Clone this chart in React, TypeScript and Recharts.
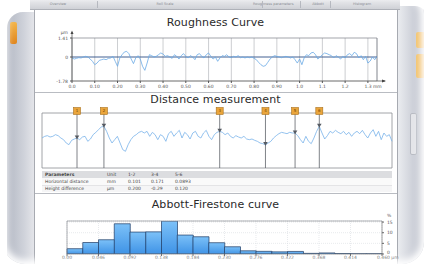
import React from 'react';
import {
  LineChart, Line, XAxis, YAxis, CartesianGrid, ReferenceLine, ReferenceDot, ReferenceArea,
  BarChart, Bar,
} from 'recharts';

const FONT = '"DejaVu Sans", Verdana, sans-serif';

// ---------- Roughness curve ----------
const roughStep = 0.01;
const roughValues = [
  -0.07, -0.15, -0.1, -0.05, -0.07, 0, 0.05, 0, -0.15, -0.32,
  -0.57, -0.45, -0.25, -0.2, -0.15, -0.2, -0.1, -0.07, 0.05, -0.32,
  -0.69, -0.07, 0.17, 0.37, 0.42, 0.25, -0.15, -0.49, -0.07, 0.1,
  -0.15, -0.69, -0.99, -0.45, 0.17, 0.1, 0, 0.05, 0.17, 0.3,
  0.22, 0.05, 0.1, 0, -0.1, 0.17, 0.05, -0.15, 0.1, 0.25,
  0.05, -0.07, 0.1, 0, -0.2, 0.17, 0.25, 0.05, -0.07, 0.17,
  0.3, 0.05, -0.15, 0, -0.32, -0.07, 0.1, 0.05, 0.17, 0,
  -0.05, 0.05, 0, 0.1, -0.05, 0, -0.07, 0, -0.05, 0,
  -0.1, -0.2, -0.4, -0.57, -0.69, -0.64, -0.4, -0.15, 0, 0.1,
  0.05, 0, -0.05, 0, 0.05, 0, -0.07, 0, -0.2, -0.45,
  -0.15, -0.57, -0.07, 0.17, 0.1, 0.3, 0.35, 0.17, -0.15, 0,
  0.17, 0.3, 0.25, 0.17, 0.1, -0.07, 0.1, 0, -0.15, 0.05,
  -0.07, 0.17, 0.25, 0.1, 0.35, 0.25, -0.07, 0.1, -0.2, 0.05,
  -0.45, -0.3, 0, -0.2, 0.05,
];
const roughXTicks = [0, 0.1, 0.2, 0.3, 0.4, 0.5, 0.6, 0.7, 0.8, 0.9, 1.0, 1.1, 1.2, 1.3];
const roughXLabels = ['0.0', '0.10', '0.20', '0.30', '0.40', '0.50', '0.60', '0.70', '0.80', '0.90', '1.0', '1.1', '1.2', '1.3 mm'];
const roughYTicks = [-1.78, 0, 1.41];
const roughYLabels = ['-1.78', '0', '1.41'];
const roughYUnit = 'µm';

// ---------- Distance measurement ----------
const distStep = 0.01;
const distValues = [
  -0.05, 0, 0.02, -0.02, 0, 0.05, 0.02, -0.05, -0.1, -0.2,
  -0.25, -0.12, -0.08, -0.05, -0.1, -0.02, 0, -0.15, -0.08, 0.05,
  0.12, 0.2, 0.28, 0.3, 0.15, -0.05, -0.2, -0.1, 0, -0.2,
  -0.4, -0.45, -0.25, -0.1, 0, 0.05, 0.12, 0.15, 0.1, 0.15,
  0, 0.12, 0.05, -0.1, 0.05, 0, -0.15, 0.08, 0.15, 0,
  0.1, 0.18, -0.05, 0.12, 0.05, -0.08, 0.1, 0.15, 0, -0.05,
  0.1, 0.18, 0, -0.1, 0.05, 0.12, 0.15, 0.12, 0.05, 0.1,
  0, -0.05, 0.02, -0.02, -0.05, 0, -0.08, -0.1, -0.08, -0.12,
  -0.15, -0.2, -0.22, -0.25, -0.2, -0.15, -0.05, 0.02, 0.08, 0.12,
  0.1, 0.08, 0.12, 0.1, 0.1, 0.02, -0.1, -0.2, 0, -0.15,
  -0.22, -0.05, 0.15, 0.3, 0.1, -0.08, 0.02, 0.15, 0.1, 0.18,
  0.12, 0.08, 0.15, 0.05, 0.12, 0, 0.1, 0.15, 0.08, 0.18,
  0.05, -0.05, 0.1, 0.2, 0, 0.15, -0.1, 0.1, 0, 0.05, -0.15,
];
const markerPositions = [0.13, 0.23, 0.66, 0.83, 0.94, 1.03];
const markerNames = ['1', '2', '3', '4', '5', '6'];

const tableHeader = ['Parameters', 'Unit', '1-2', '3-4', '5-6'];
const tableRow1 = ['Horizontal distance', 'mm', '0.101', '0.171', '0.0893'];
const tableRow2 = ['Height difference', 'µm', '0.200', '-0.29', '0.120'];

// ---------- Abbott-Firestone ----------
const abbottBinWidth = 0.023;
const abbottValues = [2.5, 5.4, 6.7, 14.2, 10.3, 10.4, 15.5, 8.9, 8.1, 5.3, 3.4, 1.5, 1.25, 1.0, 1.2, 0.3, 0.5, 0.2, 0.1, 0.1];
const abbottXTicks = [0, 0.046, 0.092, 0.138, 0.184, 0.23, 0.276, 0.322, 0.368, 0.414, 0.46];
const abbottXLabels = ['0.00', '0.046', '0.092', '0.138', '0.184', '0.230', '0.276', '0.322', '0.368', '0.414', '0.460 µm'];
const abbottYTicks = [0, 5, 10, 15];
const abbottXTitle = 'Scale in depths';

const roughData = roughValues.map((v, i) => ({ x: Number((i * roughStep).toFixed(2)), v }));
const distData = distValues.map((v, i) => ({ x: Number((i * distStep).toFixed(2)), v }));
const abbottData = abbottValues.map((v, i) => ({ x: Number(((i + 0.5) * abbottBinWidth).toFixed(4)), v }));

const TICK = { fontSize: 4.5, fill: '#555', fontFamily: FONT };

const RoughXTick = (p: any) => {
  const idx = roughXTicks.indexOf(p.payload.value);
  const label = roughXLabels[idx] ?? '';
  const last = idx === roughXTicks.length - 1;
  return (
    <text x={last ? p.x - 3.5 : p.x} y={p.y + 3} textAnchor={last ? 'start' : 'middle'} {...TICK}>{label}</text>
  );
};
const RoughYTick = (p: any) => {
  const idx = roughYTicks.indexOf(p.payload.value);
  const label = roughYLabels[idx] ?? '';
  return (
    <g>
      {idx === roughYTicks.length - 1 && (
        <text x={p.x} y={p.y - 4} textAnchor="end" {...TICK}>{roughYUnit}</text>
      )}
      <text x={p.x} y={p.y + 1.6} textAnchor="end" {...TICK}>{label}</text>
    </g>
  );
};

const AbbottXTick = (p: any) => {
  const idx = abbottXTicks.findIndex((t) => Math.abs(t - p.payload.value) < 1e-6);
  const label = abbottXLabels[idx] ?? '';
  const last = idx === abbottXTicks.length - 1;
  return (
    <text x={last ? p.x - 5 : p.x} y={p.y + 2} textAnchor={last ? 'start' : 'middle'} {...TICK}>{label}</text>
  );
};
const AbbottYTick = (p: any) => (
  <g>
    {p.payload.value === abbottYTicks[abbottYTicks.length - 1] && (
      <text x={p.x + 1} y={p.y - 5} textAnchor="start" {...TICK}>%</text>
    )}
    <text x={p.x + 1} y={p.payload.value === 0 ? p.y : p.y + 1.6} textAnchor="start" {...TICK}>{p.payload.value}</text>
  </g>
);

const MarkerFlag = (props: any) => {
  const vb = props.viewBox || {};
  const x = vb.x ?? 0;
  const y = vb.y ?? 0;
  return (
    <g>
      <rect x={x - 3.5} y={y - 5.5} width={7} height={7} fill="#eaa53c" stroke="#a8701c" strokeWidth={0.6} />
      <text x={x} y={y - 0.6} textAnchor="middle" fontSize={4} fill="#6a4300" fontFamily={FONT}>{props.name}</text>
    </g>
  );
};

const Triangle = (p: any) => (
  <path d={`M${p.cx - 2.3},${p.cy - 2.6} L${p.cx + 2.3},${p.cy - 2.6} L${p.cx},${p.cy + 1.2} Z`} fill="#555a62" />
);

const titleStyle: React.CSSProperties = {
  position: 'absolute', left: 34, width: 363, textAlign: 'center', fontSize: 11, color: '#2a2a2a',
  fontFamily: FONT, lineHeight: '12px', letterSpacing: 0.1,
};

const cellStyle = (left: number, top: number): React.CSSProperties => ({
  position: 'absolute', left, top, fontSize: 4.5, lineHeight: '6px', color: '#444', fontFamily: FONT, whiteSpace: 'nowrap',
});
const tableCols = [45, 107, 128, 151, 175];

export default function App() {
  return (
    <div style={{ position: 'fixed', left: 0, top: 0, width: 427, height: 268, background: '#fff', overflow: 'hidden', fontFamily: FONT }}>
      {/* left side strip */}
      <div style={{ position: 'absolute', left: 7, top: 12, width: 28, height: 252, background: 'linear-gradient(to right,#b3b8c3,#cfd2da 60%,#e6e7eb)', borderTopLeftRadius: 16 }} />
      <div style={{ position: 'absolute', left: 10, top: 22, width: 7, height: 22, background: 'linear-gradient(to bottom,#f3b54a,#e0861e)', borderRadius: 2 }} />
      {/* right side strip */}
      <div style={{ position: 'absolute', left: 397, top: 6, width: 30, height: 258, background: 'linear-gradient(to right,#eceef1,#cfd2da 50%,#b9bdc8)', borderTopRightRadius: 12 }} />
      <div style={{ position: 'absolute', left: 416, top: 32, width: 9, height: 16, background: 'linear-gradient(to right,#f3c060,#e49a2a)', borderRadius: 2 }} />
      <div style={{ position: 'absolute', left: 416, top: 54, width: 9, height: 24, background: 'linear-gradient(to right,#f3c060,#e49a2a)', borderRadius: 2 }} />
      <div style={{ position: 'absolute', left: 410, top: 113, width: 5, height: 40, background: '#e4e5e9', border: '1px solid #b8bbc3', borderRadius: 2 }} />
      {/* toolbar */}
      <div style={{ position: 'absolute', left: 30, top: 0, width: 370, height: 9, background: 'linear-gradient(#e9eaed,#cfd1d6)', borderBottom: '1px solid #aeb1b8' }} />
      {[{ l: 58, t: 'Overview' }, { l: 165, t: 'Roll Scale' }, { l: 268, t: 'Roughness parameters' }, { l: 318, t: 'Abbott' }, { l: 362, t: 'Histogram' }].map((d, i) => (
        <div key={i} style={{ position: 'absolute', left: d.l - 15, top: 1.5, width: 30, textAlign: 'center', fontSize: 3.5, color: '#8a8d94', whiteSpace: 'nowrap' }}>{d.t}</div>
      ))}
      {[97, 262, 300, 330].map((x, i) => (
        <div key={i} style={{ position: 'absolute', left: x, top: 1, width: 1, height: 7, background: '#b5b8bf' }} />
      ))}
      {/* main panel */}
      <div style={{ position: 'absolute', left: 34, top: 10, width: 362, height: 262, background: '#fff', borderLeft: '1px solid #a7aab1', borderRight: '1px solid #a7aab1' }} />
      <div style={{ position: 'absolute', left: 35, top: 92, width: 362, height: 1, background: '#b9bcc2' }} />
      <div style={{ position: 'absolute', left: 35, top: 193, width: 362, height: 1, background: '#b9bcc2' }} />

      {/* titles */}
      <div style={{ ...titleStyle, top: 17 }}>Roughness Curve</div>
      <div style={{ ...titleStyle, top: 94 }}>Distance measurement</div>
      <div style={{ ...titleStyle, top: 199 }}>Abbott-Firestone curve</div>

      {/* Roughness chart */}
      <div style={{ position: 'absolute', left: 0, top: 0 }}>
        <LineChart width={427} height={100} data={roughData} margin={{ top: 38, right: 50, bottom: 4, left: 42 }}>
          <CartesianGrid stroke="#a9acb2" strokeWidth={0.6} horizontal={false} />
          <XAxis dataKey="x" type="number" domain={[0, 1.34]} ticks={roughXTicks} interval={0} height={15}
            tick={<RoughXTick />} tickSize={2} tickLine={{ stroke: '#555' }} axisLine={{ stroke: '#444', strokeWidth: 0.8 }} allowDataOverflow />
          <YAxis type="number" domain={[-1.78, 1.41]} ticks={roughYTicks} interval={0} width={30}
            tick={<RoughYTick />} tickSize={2} tickLine={{ stroke: '#555' }} axisLine={{ stroke: '#444', strokeWidth: 0.8 }} allowDataOverflow />
          <ReferenceLine y={1.41} stroke="#7d8087" strokeWidth={0.7} />
          <ReferenceLine x={1.34} stroke="#7d8087" strokeWidth={0.7} />
          <ReferenceLine y={0} stroke="#2d4f86" strokeWidth={0.9} />
          <Line dataKey="v" type="linear" stroke="#6aaae6" strokeWidth={0.8} dot={false} isAnimationActive={false} />
        </LineChart>
      </div>
      <svg style={{ position: 'absolute', left: 0, top: 0 }} width={427} height={100}>
        <line x1={377} y1={81} x2={385} y2={81} stroke="#444" strokeWidth={0.7} />
        <path d="M386,81 L382,79.5 L382,82.5 Z" fill="#444" />
        <line x1={72} y1={38} x2={72} y2={32} stroke="#444" strokeWidth={0.7} />
        <path d="M72,30.5 L70.5,34 L73.5,34 Z" fill="#444" />
      </svg>

      {/* Distance chart */}
      <div style={{ position: 'absolute', left: 0, top: 0 }}>
        <LineChart width={427} height={200} data={distData} margin={{ top: 113, right: 35, bottom: 32, left: 42 }}>
          <XAxis dataKey="x" type="number" domain={[0, 1.3]} hide />
          <YAxis type="number" domain={[-0.95, 0.7]} hide allowDataOverflow />
          <ReferenceArea x1={0} x2={1.3} y1={-0.95} y2={0.7} fill="none" stroke="#8a8d93" strokeWidth={0.8} />
          <Line dataKey="v" type="linear" stroke="#79b3ea" strokeWidth={0.8} dot={false} isAnimationActive={false} />
          {markerPositions.map((m, i) => (
            <ReferenceLine key={'l' + i} x={m} stroke="#5f636a" strokeWidth={0.8} label={<MarkerFlag name={markerNames[i]} />} />
          ))}
          {markerPositions.map((m, i) => (
            <ReferenceDot key={'d' + i} x={m} y={distValues[Math.round(m / distStep)]} shape={<Triangle />} />
          ))}
        </LineChart>
      </div>

      {/* table */}
      <div style={{ position: 'absolute', left: 42, top: 171, width: 350, height: 7, background: '#dcdde0' }} />
      <div style={{ position: 'absolute', left: 42, top: 178, width: 350, height: 7, background: '#fafafa', borderBottom: '1px solid #e4e4e6' }} />
      <div style={{ position: 'absolute', left: 42, top: 186, width: 350, height: 6, background: '#f5f5f6' }} />
      {tableHeader.map((t, i) => (
        <div key={'h' + i} style={{ ...cellStyle(tableCols[i], 171.5), fontWeight: i === 0 ? 'bold' : 'normal' }}>{t}</div>
      ))}
      {tableRow1.map((t, i) => (
        <div key={'r1' + i} style={cellStyle(tableCols[i], 178.5)}>{t}</div>
      ))}
      {tableRow2.map((t, i) => (
        <div key={'r2' + i} style={cellStyle(tableCols[i], 185.5)}>{t}</div>
      ))}

      {/* Abbott-Firestone chart */}
      <div style={{ position: 'absolute', left: 0, top: 190 }}>
        <BarChart width={427} height={80} data={abbottData} margin={{ top: 31, right: 25, bottom: 3, left: 67 }} barCategoryGap={0} barGap={0}>
          <defs>
            <linearGradient id="abbottFill" x1="0" y1="0" x2="0" y2="1">
              <stop offset="0%" stopColor="#7cc1f8" />
              <stop offset="100%" stopColor="#3f93e6" />
            </linearGradient>
          </defs>
          <CartesianGrid stroke="#d9dbe0" strokeWidth={0.6} strokeDasharray="1 1" />
          <XAxis dataKey="x" type="number" domain={[0, 0.46]} ticks={abbottXTicks} interval={0} height={13}
            tick={<AbbottXTick />} tickSize={2} tickMargin={1} tickLine={{ stroke: '#666' }} axisLine={{ stroke: '#777', strokeWidth: 0.7 }}
            label={{ value: abbottXTitle, position: 'insideBottom', offset: 0.5, fontSize: 4, fill: '#555' }} />
          <YAxis orientation="right" type="number" domain={[0, 15.5]} ticks={abbottYTicks} interval={0} width={20}
            tick={<AbbottYTick />} tickSize={2} tickLine={{ stroke: '#666' }} axisLine={{ stroke: '#777', strokeWidth: 0.7 }} allowDataOverflow />
          <ReferenceLine y={15.5} stroke="#8a8d93" strokeWidth={0.7} />
          <ReferenceLine x={0} stroke="#8a8d93" strokeWidth={0.7} />
          <Bar dataKey="v" fill="url(#abbottFill)" stroke="#1f3b63" strokeWidth={0.7} isAnimationActive={false} />
        </BarChart>
      </div>

      {/* photo vignette */}
      <div style={{ position: 'absolute', left: 3, top: -8, width: 421, height: 272, borderRadius: 22, boxShadow: '0 0 0 40px #fff, inset 0 0 7px 4px #fff', pointerEvents: 'none' }} />
    </div>
  );
}
